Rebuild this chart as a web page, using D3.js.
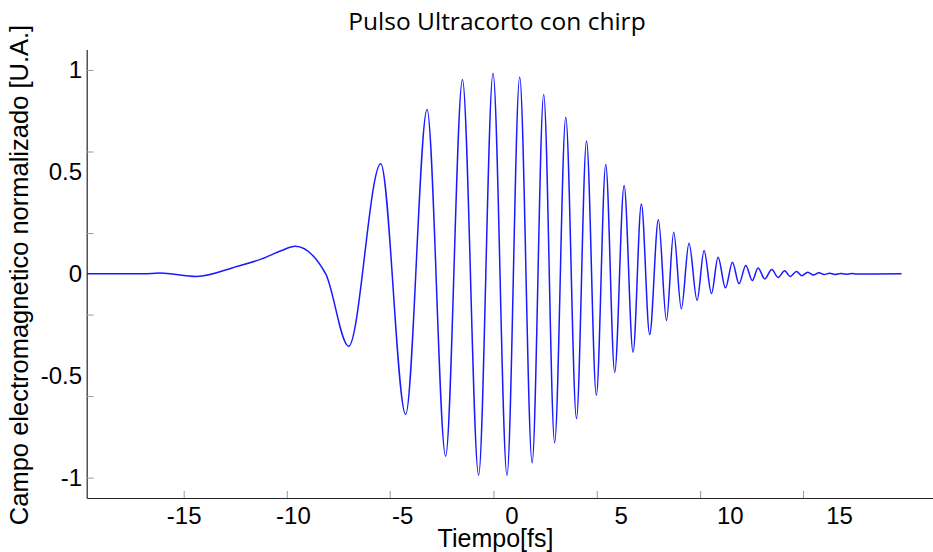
<!DOCTYPE html>
<html>
<head>
<meta charset="utf-8">
<script src="https://cdn.jsdelivr.net/npm/d3@7"></script>
<style>
  body { margin: 0; background: #fff; }
  svg { display: block; }
</style>
</head>
<body>
<svg id="pulseChart"></svg>
<script>
// Peaks / troughs of the chirped pulse (time in fs, normalized field)
const tiempo = [-19.43, -16.84, -16.10, -14.41, -12.57, -11.43, -10.52, -9.90, -8.50, -7.45,
  -5.98, -4.84, -3.86, -3.01, -2.24, -1.50, -0.84, -0.20, 0.38, 0.95,
  1.48, 1.98, 2.49, 2.98, 3.44, 3.89, 4.32, 4.73, 5.16, 5.57,
  5.95, 6.33, 6.73, 7.10, 7.43, 7.78, 8.13, 8.50, 8.82, 9.16,
  9.46, 9.80, 10.12, 10.42, 10.73, 11.03, 11.29, 11.60, 11.92, 12.21,
  12.51, 12.76, 13.05, 13.29, 13.57, 13.82, 14.08, 14.32, 14.57, 14.80,
  15.08, 15.31, 15.58, 15.81, 17.86];
const campo = [0, 0, 0.004, -0.013, 0.036, 0.073, 0.114, 0.135, 0, -0.355,
  0.540, -0.690, 0.806, -0.895, 0.953, -0.988, 0.984, -0.988, 0.965, -0.927,
  0.880, -0.829, 0.768, -0.710, 0.651, -0.596, 0.536, -0.483, 0.433, -0.385,
  0.343, -0.298, 0.265, -0.229, 0.204, -0.172, 0.150, -0.130, 0.114, -0.097,
  0.081, -0.069, 0.057, -0.049, 0.041, -0.033, 0.029, -0.025, 0.021, -0.018,
  0.015, -0.013, 0.011, -0.009, 0.008, -0.006, 0.005, -0.004, 0.003, -0.003,
  0.002, -0.002, 0.001, -0.001, 0];

// Tick labels and tick marks do not line up in the original figure
const xTickLabels = [-15, -10, -5, 0, 5, 10, 15];
const xTickMarks = [-15, -10.28, -5.57, -0.82, 3.91, 8.64, 13.35];
const yTickLabels = [1, 0.5, 0, -0.5, -1];
const yTickMarks = [1, 0.6, 0.2, -0.2, -0.6, -1];
const xDomain = [-19.44, 19.3];
const yDomain = [-1.1, 1.1];

document.addEventListener("DOMContentLoaded", function () {
  renderPulse();
});

function renderPulse() {
  const width = 933;
  const height = 552;
  const svg = d3.select("#pulseChart").attr("width", width).attr("height", height);

  const left = 86.7, right = 933, top = 49.6, bottom = 498;
  const labelFont = "'Liberation Sans', Arial, sans-serif";
  const plainNumber = (d) => String(d); // keep a plain hyphen like the original

  const x = d3.scaleLinear().domain(xDomain).range([left, right]);
  const y = d3.scaleLinear().domain(yDomain).range([bottom, top]);

  // x axis: line + inward tick marks
  const xMarks = svg.append("g")
    .attr("transform", `translate(0,${bottom})`)
    .call(d3.axisBottom(x).tickValues(xTickMarks).tickSize(-7).tickSizeOuter(0).tickFormat(""));
  xMarks.select(".domain").attr("stroke", "#262626").attr("stroke-width", 1.2);
  xMarks.selectAll(".tick line").attr("stroke", "#9a9a9a");

  // x axis labels
  const xLabels = svg.append("g")
    .attr("transform", `translate(0,${bottom})`)
    .call(d3.axisBottom(x).tickValues(xTickLabels).tickSize(0).tickPadding(8.5).tickFormat(plainNumber));
  xLabels.select(".domain").remove();
  xLabels.selectAll("text")
    .attr("font-family", labelFont)
    .attr("font-size", 24)
    .attr("fill", "#000");

  // y axis: line + inward tick marks
  const yMarks = svg.append("g")
    .attr("transform", `translate(${left},0)`)
    .call(d3.axisLeft(y).tickValues(yTickMarks).tickSize(-7).tickSizeOuter(0).tickFormat(""));
  yMarks.select(".domain").attr("stroke", "#262626").attr("stroke-width", 1.2);
  yMarks.selectAll(".tick line").attr("stroke", "#9a9a9a");

  // y axis labels
  const yLabels = svg.append("g")
    .attr("transform", `translate(${left},0)`)
    .call(d3.axisLeft(y).tickValues(yTickLabels).tickSize(0).tickPadding(4.7).tickFormat(plainNumber));
  yLabels.select(".domain").remove();
  yLabels.selectAll("text")
    .attr("font-family", labelFont)
    .attr("font-size", 24)
    .attr("fill", "#000");

  // pulse curve
  const data = tiempo.map((t, i) => ({ t: t, v: campo[i] }));
  const line = d3.line()
    .x((d) => x(d.t))
    .y((d) => y(d.v))
    .curve(d3.curveMonotoneX);

  svg.append("path")
    .datum(data)
    .attr("d", line)
    .attr("fill", "none")
    .attr("stroke", "#1a1aff")
    .attr("stroke-width", 1.5);

  // title
  svg.append("text")
    .attr("x", 497)
    .attr("y", 30)
    .attr("text-anchor", "middle")
    .attr("font-family", "'Open Sans', sans-serif")
    .attr("font-size", 24.5)
    .attr("fill", "#000")
    .text("Pulso Ultracorto con chirp");

  // axis titles
  svg.append("text")
    .attr("x", 495.5)
    .attr("y", 547)
    .attr("text-anchor", "middle")
    .attr("font-family", labelFont)
    .attr("font-size", 25)
    .attr("fill", "#000")
    .text("Tiempo[fs]");

  svg.append("text")
    .attr("transform", "translate(28,275) rotate(-90)")
    .attr("text-anchor", "middle")
    .attr("font-family", labelFont)
    .attr("font-size", 25.5)
    .attr("fill", "#000")
    .text("Campo electromagnetico normalizado [U.A.]");
}
</script>
</body>
</html>
